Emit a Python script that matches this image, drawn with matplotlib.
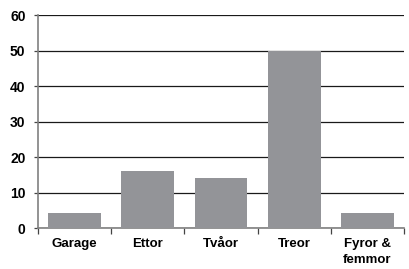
import matplotlib
matplotlib.use("Agg")
import matplotlib.pyplot as plt
import numpy as np

categories = ["Garage", "Ettor", "Tvåor", "Treor", "Fyror &\nfemmor"]
values = [4.2, 16, 14, 50, 4.2]
y_ticks = [0, 10, 20, 30, 40, 50, 60]

plt.rcParams["font.family"] = ["Liberation Sans", "DejaVu Sans"]

fig = plt.figure(figsize=(4.09, 2.69), dpi=100)
ax = fig.add_axes([0.093, 0.152, 0.895, 0.792])

x = np.arange(len(categories))
ax.bar(x, values, width=0.72, color="#939498", zorder=3)

ax.set_ylim(0, 60)
ax.set_xlim(-0.5, len(categories) - 0.5)
ax.set_yticks(y_ticks)
ax.yaxis.grid(True, color="#1a1a1a", linewidth=0.9, zorder=1)
ax.set_axisbelow(True)

# category labels centred, ticks between categories
ax.set_xticks(x)
ax.set_xticklabels(categories, fontweight="bold", fontsize=9.5, va="top", linespacing=1.5)
ax.tick_params(axis="x", length=0, pad=7)
ax.set_xticks(np.arange(len(categories) + 1) - 0.5, minor=True)
ax.tick_params(axis="x", which="minor", length=4, color="#444444", width=0.9)
ax.tick_params(axis="y", length=3, color="#444444", width=0.9, labelsize=10, pad=6)
for lbl in ax.get_yticklabels():
    lbl.set_fontweight("bold")

for side in ["top", "right"]:
    ax.spines[side].set_visible(False)
for side in ["left", "bottom"]:
    ax.spines[side].set_color("#808080")
    ax.spines[side].set_linewidth(1.2)

fig.savefig("out.png", dpi=100)
